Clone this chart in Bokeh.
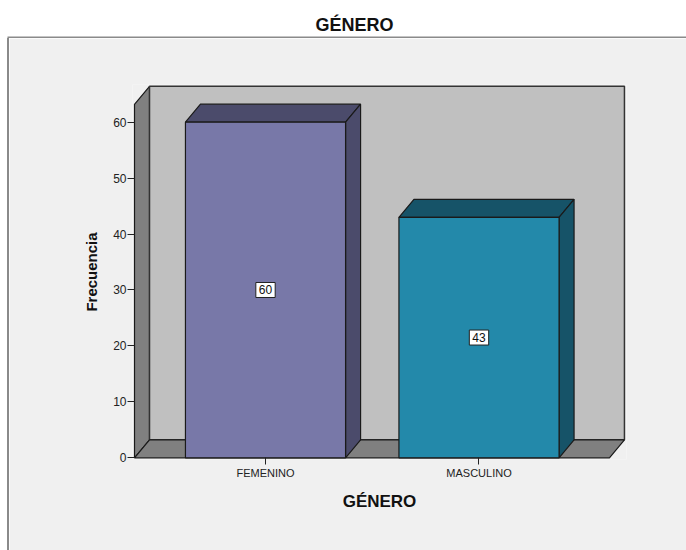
from bokeh.plotting import figure
from bokeh.models import Range1d, FixedTicker, ColumnDataSource, Spacer
from bokeh.layouts import column, row
from bokeh.embed import file_html
from bokeh.resources import INLINE

# ---- data ----
categories = ["FEMENINO", "MASCULINO"]
counts = [60, 43]
y_ticks = [0, 10, 20, 30, 40, 50, 60]
front_colors = ["#7878A8", "#2389AA"]
dark_colors = ["#4B4B6B", "#165368"]

FONT = "Liberation Sans"
BOX_LINE = "#8a8a8a"

# ---- 3D geometry (data units) ----
BAR_W = 0.75
DX = 0.0703
DY = 3.22
WALL_LO = 0.3864
WALL_HI = 2.611
WALL_TOP = 63.2

xs = [i + 1 for i in range(len(categories))]

# ---- title strip (its 2px frame is the top border of the chart box) ----
t = figure(width=686, height=38, title="GÉNERO", toolbar_location=None,
           x_axis_location=None, y_axis_location=None, output_backend="svg",
           min_border_left=7, min_border_right=0, min_border_top=36, min_border_bottom=0)
t.title.align = "left"
t.title.offset = 308
t.title.text_font = FONT
t.title.text_font_size = "18px"
t.title.text_font_style = "bold"
t.title.text_color = "#111111"
t.title.standoff = 4
t.outline_line_color = None
t.background_fill_color = BOX_LINE
t.border_fill_color = "white"
t.grid.visible = False
t.scatter([0], [0], alpha=0)

# ---- left border line of the chart box ----
vline = Spacer(width=2, height=512, margin=(0, 0, 0, 7),
               styles={"background-color": BOX_LINE})

# ---- main figure ----
p = figure(width=677, height=512, toolbar_location=None, output_backend="svg",
           x_range=Range1d(0.3770, 2.6909), y_range=Range1d(-0.304, 66.74),
           min_border_left=123, min_border_top=46, min_border_right=60, min_border_bottom=91)
p.margin = 0
p.background_fill_color = "#F0F0F0"
p.border_fill_color = "#F0F0F0"
p.outline_line_color = None
p.grid.visible = False

EDGE = "#1a1a1a"

# walls and floor
p.patch([WALL_LO, WALL_LO + DX, WALL_LO + DX, WALL_LO],
        [0, DY, WALL_TOP + DY, WALL_TOP], fill_color="#808080", line_color=EDGE, line_width=1.2)
p.patch([WALL_LO + DX, WALL_HI + DX, WALL_HI + DX, WALL_LO + DX],
        [DY, DY, WALL_TOP + DY, WALL_TOP + DY], fill_color="#C0C0C0", line_color="#333333", line_width=1.5)
p.patch([WALL_LO, WALL_HI, WALL_HI + DX, WALL_LO + DX],
        [0, 0, DY, DY], fill_color="#808080", line_color=EDGE, line_width=1.2)

# bars
for x, val, fc, dc in zip(xs, counts, front_colors, dark_colors):
    l, r = x - BAR_W / 2, x + BAR_W / 2
    p.patch([l, r, r + DX, l + DX], [val, val, val + DY, val + DY], fill_color=dc, line_color=EDGE, line_width=1.2)
    p.patch([r, r + DX, r + DX, r], [0, DY, val + DY, val], fill_color=dc, line_color=EDGE, line_width=1.2)
    p.quad(left=l, right=r, bottom=0, top=val, fill_color=fc, line_color=EDGE, line_width=1.2)

src = ColumnDataSource(dict(x=xs, y=[c / 2 for c in counts], text=[str(c) for c in counts]))
p.text(x="x", y="y", text="text", source=src, text_align="center", text_baseline="middle",
       text_font_size="12px", text_color="#111111", text_font={"value": FONT},
       background_fill_color="white", border_line_color="#222222", border_line_width=1, padding=3)

# axes
p.yaxis.ticker = FixedTicker(ticks=y_ticks)
p.xaxis.ticker = FixedTicker(ticks=xs)
p.xaxis.major_label_overrides = {x: c for x, c in zip(xs, categories)}
for ax in (p.xaxis[0], p.yaxis[0]):
    ax.axis_line_color = None
    ax.major_tick_out = 5
    ax.major_tick_in = 2
    ax.minor_tick_line_color = None
    ax.major_tick_line_color = "#222222"
    ax.major_label_text_font = FONT
    ax.major_label_text_color = "#222222"
    ax.axis_label_text_font = FONT
    ax.axis_label_text_font_style = "bold"
    ax.axis_label_text_color = "#111111"
p.yaxis.major_label_text_font_size = "12px"
p.yaxis.major_label_standoff = 1
p.yaxis.axis_label = "Frecuencia"
p.yaxis.axis_label_text_font_size = "15px"
p.yaxis.axis_label_standoff = 10
p.xaxis.major_label_text_font_size = "11px"
p.xaxis.major_label_standoff = 2
p.xaxis.axis_label = "GÉNERO"
p.xaxis.axis_label_text_font_size = "17px"
p.xaxis.axis_label_standoff = 10

layout = column(t, row(vline, p, spacing=0), spacing=0)
open("out.html", "w").write(file_html(layout, INLINE))
